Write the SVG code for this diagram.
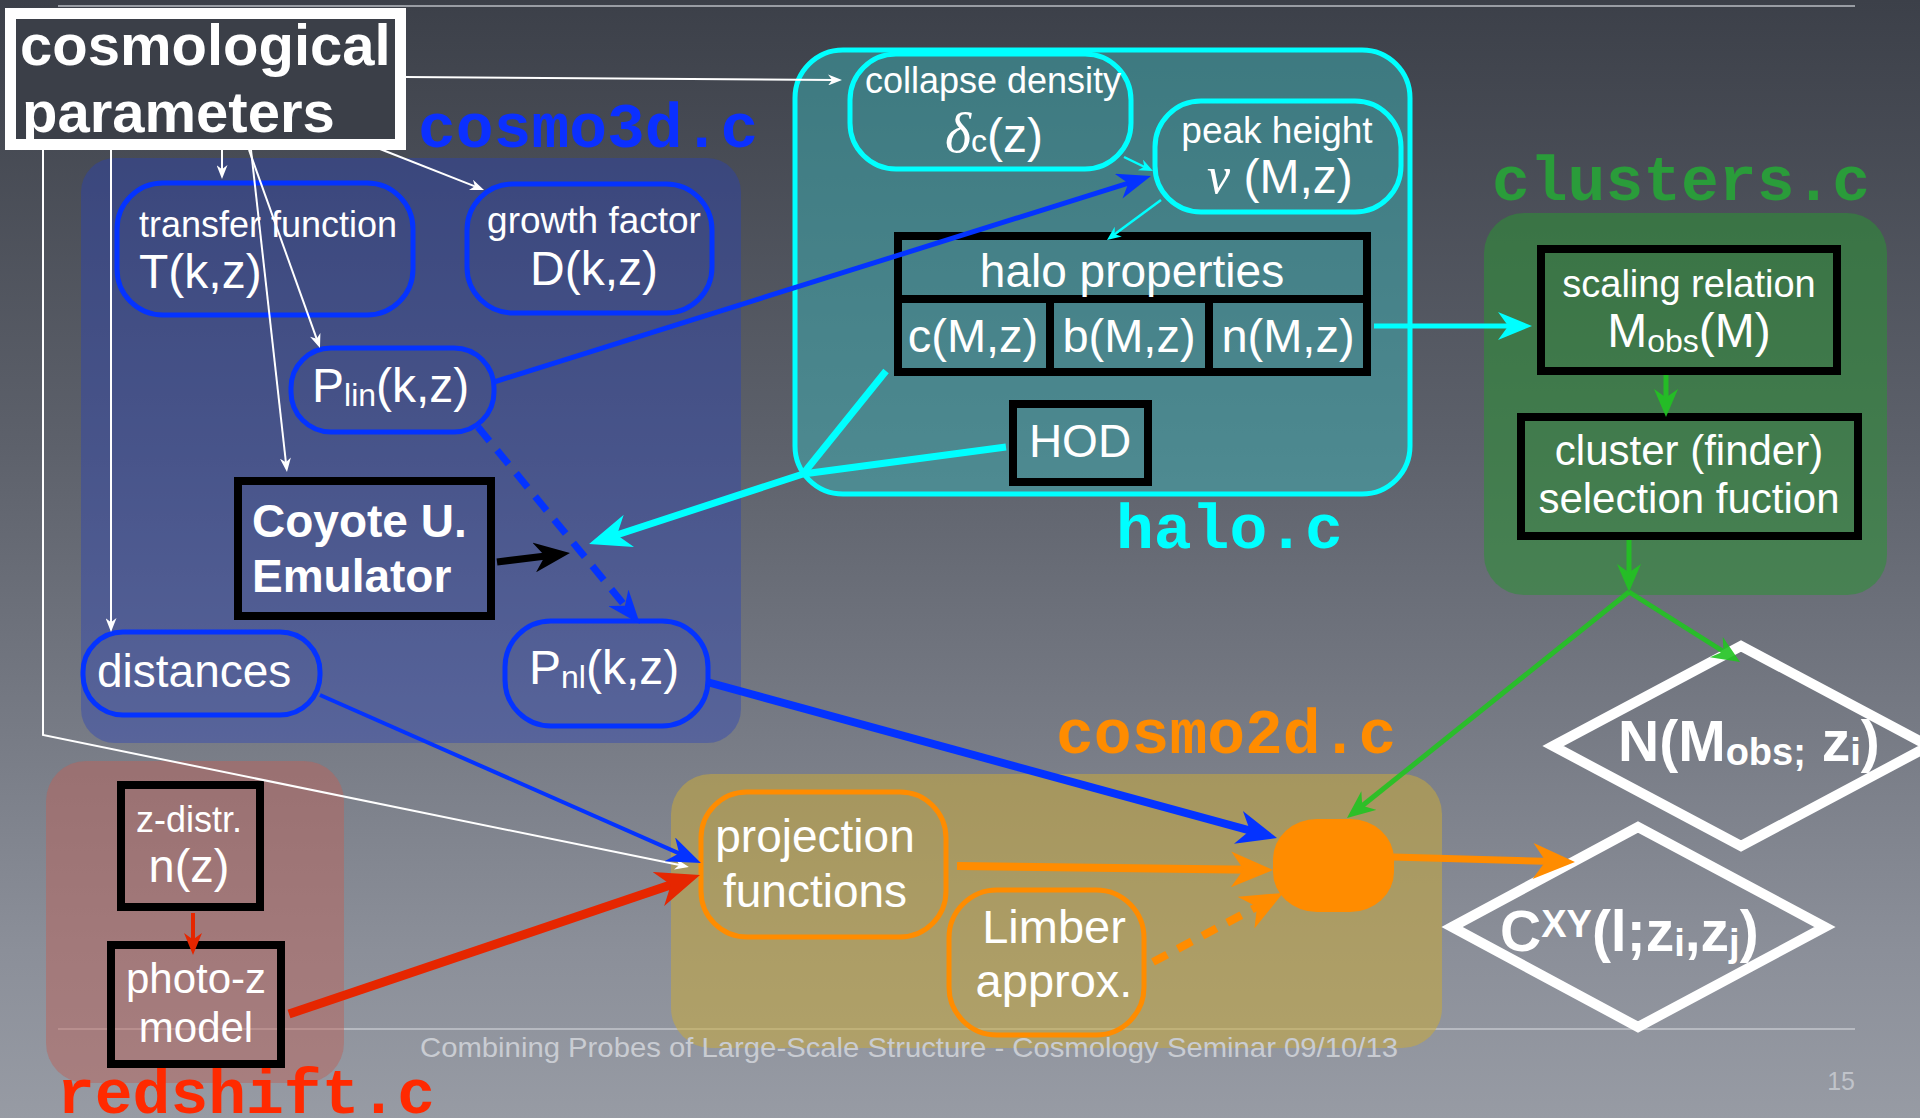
<svg xmlns="http://www.w3.org/2000/svg" width="1920" height="1118" viewBox="0 0 1920 1118">
<defs>
  <linearGradient id="bg" x1="0" y1="0" x2="0" y2="1">
    <stop offset="0" stop-color="#3c4049"/>
    <stop offset="0.4" stop-color="#5d616b"/>
    <stop offset="0.85" stop-color="#8b8f99"/>
    <stop offset="1" stop-color="#979ba4"/>
  </linearGradient>
  <!-- arrowheads: notched triangle, tip at x=10, line ends at its middle -->
  <marker id="mW" viewBox="0 0 10 10" refX="5" refY="5" markerWidth="14" markerHeight="11" markerUnits="userSpaceOnUse" orient="auto" preserveAspectRatio="none"><path d="M0,0 L10,5 L0,10 L3,5 Z" fill="#ffffff"/></marker>
  <marker id="mB" viewBox="0 0 10 10" refX="5" refY="5" markerWidth="34" markerHeight="26" markerUnits="userSpaceOnUse" orient="auto" preserveAspectRatio="none"><path d="M0,0 L10,5 L0,10 L3,5 Z" fill="#0433ff"/></marker>
  <marker id="mBL" viewBox="0 0 10 10" refX="5" refY="5" markerWidth="40" markerHeight="34" markerUnits="userSpaceOnUse" orient="auto" preserveAspectRatio="none"><path d="M0,0 L10,5 L0,10 L3,5 Z" fill="#0433ff"/></marker>
  <marker id="mK" viewBox="0 0 10 10" refX="5" refY="5" markerWidth="36" markerHeight="30" markerUnits="userSpaceOnUse" orient="auto" preserveAspectRatio="none"><path d="M0,0 L10,5 L0,10 L3,5 Z" fill="#000000"/></marker>
  <marker id="mC" viewBox="0 0 10 10" refX="5" refY="5" markerWidth="42" markerHeight="34" markerUnits="userSpaceOnUse" orient="auto" preserveAspectRatio="none"><path d="M0,0 L10,5 L0,10 L3,5 Z" fill="#00ffff"/></marker>
  <marker id="mC2" viewBox="0 0 10 10" refX="5" refY="5" markerWidth="34" markerHeight="28" markerUnits="userSpaceOnUse" orient="auto" preserveAspectRatio="none"><path d="M0,0 L10,5 L0,10 L3,5 Z" fill="#00ffff"/></marker>
  <marker id="mCs" viewBox="0 0 10 10" refX="5" refY="5" markerWidth="14" markerHeight="12" markerUnits="userSpaceOnUse" orient="auto" preserveAspectRatio="none"><path d="M0,0 L10,5 L0,10 L3,5 Z" fill="#00ffff"/></marker>
  <marker id="mG" viewBox="0 0 10 10" refX="5" refY="5" markerWidth="28" markerHeight="24" markerUnits="userSpaceOnUse" orient="auto" preserveAspectRatio="none"><path d="M0,0 L10,5 L0,10 L3,5 Z" fill="#22c422"/></marker>
  <marker id="mR" viewBox="0 0 10 10" refX="5" refY="5" markerWidth="44" markerHeight="36" markerUnits="userSpaceOnUse" orient="auto" preserveAspectRatio="none"><path d="M0,0 L10,5 L0,10 L3,5 Z" fill="#e62600"/></marker>
  <marker id="mRs" viewBox="0 0 10 10" refX="5" refY="5" markerWidth="22" markerHeight="18" markerUnits="userSpaceOnUse" orient="auto" preserveAspectRatio="none"><path d="M0,0 L10,5 L0,10 L3,5 Z" fill="#e62600"/></marker>
  <marker id="mO" viewBox="0 0 10 10" refX="5" refY="5" markerWidth="42" markerHeight="36" markerUnits="userSpaceOnUse" orient="auto" preserveAspectRatio="none"><path d="M0,0 L10,5 L0,10 L3,5 Z" fill="#ff8c00"/></marker>
</defs>
<style>
  .t { font-family: "Liberation Sans", Arial, sans-serif; fill: #ffffff; }
  .b { font-weight: bold; }
  .c { text-anchor: middle; }
  .greek { font-family: "Liberation Serif", "Times New Roman", serif; font-style: italic; }
  .code { font-family: "Liberation Mono", "Courier New", monospace; font-weight: bold; font-size: 63px; }
  .nb { fill: none; stroke: #0433ff; stroke-width: 5; }
  .nc { fill: none; stroke: #00ffff; stroke-width: 5; }
  .no { fill: none; stroke: #ff8c00; stroke-width: 5; }
  .bx { fill: none; stroke: #000000; stroke-width: 8; }
  .dm { fill: none; stroke: #ffffff; stroke-width: 10; }
  .w { fill: none; stroke: #ffffff; stroke-width: 2; }
  .blue { fill: none; stroke: #0433ff; }
  .cy { fill: none; stroke: #00ffff; stroke-linejoin: round; }
  .gr { fill: none; stroke: #22c422; stroke-width: 5; opacity: 0.9; }
  .rd { fill: none; stroke: #e62600; }
  .or { fill: none; stroke: #ff8c00; }
  .foot { font-family: "Liberation Sans", Arial, sans-serif; fill: #c9ccd2; }
</style>

<!-- slide background and rules -->
<rect x="0" y="0" width="1920" height="1118" fill="url(#bg)"/>
<line x1="58" y1="6" x2="1855" y2="6" stroke="#b9bcc3" stroke-width="1.5"/>
<line x1="58" y1="1029" x2="1855" y2="1029" stroke="#c4c7cd" stroke-width="1.5"/>

<!-- module regions -->
<g id="region-cosmo3d">
  <rect x="81" y="158" width="660" height="585" rx="34" fill="rgb(41,65,185)" fill-opacity="0.4"/>
  <text class="code" x="418" y="147" fill="#0b30ff">cosmo3d.c</text>
</g>
<g id="region-halo">
  <rect x="795" y="50" width="615" height="444" rx="48" fill="rgb(60,175,180)" fill-opacity="0.5" stroke="#00ffff" stroke-width="5"/>
  <text class="code" x="1116" y="548" fill="#00ffff">halo.c</text>
</g>
<g id="region-clusters">
  <rect x="1484" y="213" width="403" height="382" rx="40" fill="rgb(43,145,53)" fill-opacity="0.55"/>
  <text class="code" x="1492" y="200" fill="#2a9c3a">clusters.c</text>
</g>
<g id="region-cosmo2d">
  <rect x="671" y="774" width="771" height="274" rx="40" fill="rgb(200,170,60)" fill-opacity="0.55"/>
  <text class="code" x="1056" y="753" fill="#ff8c00">cosmo2d.c</text>
</g>
<g id="region-redshift">
  <rect x="46" y="761" width="298" height="322" rx="40" fill="rgb(186,100,92)" fill-opacity="0.5"/>
  <text class="code" x="57" y="1113" fill="#ff2a00">redshift.c</text>
</g>

<!-- nodes -->
<g id="cosmological-parameters">
  <rect x="10.5" y="13.5" width="390" height="131" fill="#3b3f48"/>
  <text class="t b" x="20" y="65" font-size="58">cosmological</text>
  <text class="t b" x="22" y="132" font-size="58">parameters</text>
  <rect x="10.5" y="13.5" width="390" height="131" fill="none" stroke="#ffffff" stroke-width="11"/>
</g>
<g id="transfer-function">
  <rect class="nb" x="117" y="183" width="296" height="132" rx="46"/>
  <text class="t" x="139" y="237" font-size="36">transfer function</text>
  <text class="t" x="139" y="288" font-size="48">T(k,z)</text>
</g>
<g id="growth-factor">
  <rect class="nb" x="467" y="184" width="245" height="129" rx="46"/>
  <text class="t c" x="594" y="233" font-size="37">growth factor</text>
  <text class="t c" x="594" y="285" font-size="48">D(k,z)</text>
</g>
<g id="p-lin">
  <rect class="nb" x="291" y="348" width="203" height="84" rx="40"/>
  <text class="t" x="312" y="402" font-size="48">P<tspan font-size="32" dy="4">lin</tspan><tspan dy="-4">(k,z)</tspan></text>
</g>
<g id="coyote-emulator">
  <rect class="bx" x="238" y="481" width="253" height="135"/>
  <text class="t b" x="252" y="537" font-size="46">Coyote U.</text>
  <text class="t b" x="252" y="592" font-size="46">Emulator</text>
</g>
<g id="distances">
  <rect class="nb" x="83" y="632" width="237" height="83" rx="40"/>
  <text class="t" x="97" y="687" font-size="46">distances</text>
</g>
<g id="p-nl">
  <rect class="nb" x="505" y="621" width="203" height="105" rx="46"/>
  <text class="t" x="529" y="684" font-size="48">P<tspan font-size="32" dy="4">nl</tspan><tspan dy="-4">(k,z)</tspan></text>
</g>
<g id="collapse-density">
  <rect class="nc" x="850" y="54" width="281" height="115" rx="46"/>
  <text class="t c" x="993" y="93" font-size="36">collapse density</text>
  <text class="t" x="945" y="152" font-size="48"><tspan class="greek" font-size="56">δ</tspan><tspan font-size="32">c</tspan>(z)</text>
</g>
<g id="peak-height">
  <rect class="nc" x="1155" y="101" width="246" height="111" rx="46"/>
  <text class="t c" x="1277" y="143" font-size="37">peak height</text>
  <text class="t" x="1207" y="193" font-size="48"><tspan class="greek" font-size="52">ν</tspan> (M,z)</text>
</g>
<g id="halo-properties">
  <rect class="bx" x="898" y="236" width="469" height="136"/>
  <line x1="898" y1="299" x2="1367" y2="299" stroke="#000" stroke-width="8"/>
  <line x1="1050" y1="299" x2="1050" y2="372" stroke="#000" stroke-width="8"/>
  <line x1="1209" y1="299" x2="1209" y2="372" stroke="#000" stroke-width="8"/>
  <text class="t c" x="1132" y="287" font-size="46">halo properties</text>
  <text class="t c" x="973" y="352" font-size="47">c(M,z)</text>
  <text class="t c" x="1129" y="352" font-size="47">b(M,z)</text>
  <text class="t c" x="1288" y="352" font-size="47">n(M,z)</text>
</g>
<g id="hod">
  <rect class="bx" x="1013" y="404" width="135" height="78"/>
  <text class="t c" x="1080" y="457" font-size="46">HOD</text>
</g>
<g id="scaling-relation">
  <rect class="bx" x="1541" y="249" width="296" height="122"/>
  <text class="t c" x="1689" y="297" font-size="38">scaling relation</text>
  <text class="t c" x="1689" y="347" font-size="48">M<tspan font-size="32" dy="5">obs</tspan><tspan dy="-5">(M)</tspan></text>
</g>
<g id="selection-function">
  <rect class="bx" x="1521" y="417" width="337" height="119"/>
  <text class="t c" x="1689" y="465" font-size="42">cluster (finder)</text>
  <text class="t c" x="1689" y="513" font-size="42">selection fuction</text>
</g>
<g id="z-distribution">
  <rect class="bx" x="121" y="785" width="139" height="122"/>
  <text class="t c" x="189" y="832" font-size="36">z-distr.</text>
  <text class="t c" x="189" y="882" font-size="47">n(z)</text>
</g>
<g id="photo-z-model">
  <rect class="bx" x="111" y="945" width="170" height="119"/>
  <text class="t c" x="196" y="993" font-size="42">photo-z</text>
  <text class="t c" x="196" y="1042" font-size="42">model</text>
</g>
<g id="projection-functions">
  <rect class="no" x="701" y="792" width="245" height="145" rx="46"/>
  <text class="t c" x="815" y="852" font-size="46">projection</text>
  <text class="t c" x="815" y="907" font-size="46">functions</text>
</g>
<g id="limber-approx">
  <rect class="no" x="949" y="890" width="195" height="145" rx="48"/>
  <text class="t c" x="1054" y="943" font-size="47">Limber</text>
  <text class="t c" x="1054" y="997" font-size="47">approx.</text>
</g>
<g id="combiner">
  <rect x="1273" y="819" width="121" height="93" rx="44" ry="40" fill="#ff8c00"/>
</g>
<g id="number-counts">
  <polygon class="dm" points="1553,746 1741,646 1929,746 1741,846"/>
  <text class="t b" x="1618" y="761" font-size="57">N(M<tspan font-size="38" dy="4">obs;</tspan><tspan dy="-4"> z</tspan><tspan font-size="38" dy="4">i</tspan><tspan dy="-4">)</tspan></text>
</g>
<g id="power-spectra">
  <polygon class="dm" points="1452,927 1638,827 1825,927 1638,1027"/>
  <text class="t b" x="1500" y="951" font-size="57">C<tspan font-size="38" dy="-14">XY</tspan><tspan dy="14">(l;z</tspan><tspan font-size="38" dy="5">i</tspan><tspan dy="-5">,z</tspan><tspan font-size="38" dy="5">j</tspan><tspan dy="-5">)</tspan></text>
</g>

<!-- connectors -->
<g id="connectors">
  <!-- from the cosmological parameters -->
  <path class="w" d="M405,77 L835,80" marker-end="url(#mW)"/>
  <path class="w" d="M222,150 L222,172" marker-end="url(#mW)"/>
  <path class="w" d="M380,149 L477.5,187.4" marker-end="url(#mW)"/>
  <path class="w" d="M249,150 L317.6,341.4" marker-end="url(#mW)"/>
  <path class="w" d="M251,150 L286.2,465" marker-end="url(#mW)"/>
  <path class="w" d="M111,150 L111,625" marker-end="url(#mW)"/>
  <path class="w" d="M43,150 L43,735 L682,865.6" marker-end="url(#mW)"/>
  <!-- power spectra -->
  <path class="blue" stroke-width="5" d="M494,382 L1134.8,181.1" marker-end="url(#mB)"/>
  <path class="blue" stroke-width="7" stroke-dasharray="18 12" d="M478,427 L629.2,610.9" marker-end="url(#mB)"/>
  <path class="blue" stroke-width="8" d="M707,682 L1257.7,832.7" marker-end="url(#mBL)"/>
  <path class="blue" stroke-width="4" d="M320,695 L685.4,856.1" marker-end="url(#mB)"/>
  <path fill="none" stroke="#000" stroke-width="7" d="M497,562 L552.1,555.2" marker-end="url(#mK)"/>
  <!-- halo model -->
  <path class="cy" stroke-width="7" d="M886,371 L803,474"/>
  <path class="cy" stroke-width="7" d="M1006,447 L803,474 L609,537.5" marker-end="url(#mC)"/>
  <path class="cy" stroke-width="2.5" d="M1124,157 L1146.7,168" marker-end="url(#mCs)"/>
  <path class="cy" stroke-width="2.5" d="M1161,200 L1112.6,235.8" marker-end="url(#mCs)"/>
  <path class="cy" stroke-width="5" d="M1374,326 L1515,326" marker-end="url(#mC2)"/>
  <!-- clusters -->
  <path class="gr" d="M1666,375 L1666,403" marker-end="url(#mG)"/>
  <path class="gr" d="M1629,540 L1629,578" marker-end="url(#mG)"/>
  <path class="gr" d="M1629,592 L1728.2,654.5" marker-end="url(#mG)"/>
  <path class="gr" d="M1629,592 L1357.9,809.3" marker-end="url(#mG)"/>
  <!-- redshift distributions -->
  <path class="rd" stroke-width="4" d="M193,913 L193,944" marker-end="url(#mRs)"/>
  <path class="rd" stroke-width="9" d="M289,1014 L679.2,882" marker-end="url(#mR)"/>
  <!-- projections -->
  <path class="or" stroke-width="8" d="M957,866 L1252,869.7" marker-end="url(#mO)"/>
  <path class="or" stroke-width="8" stroke-dasharray="16 12" d="M1153,962 L1264.5,902.8" marker-end="url(#mO)"/>
  <path class="or" stroke-width="7" d="M1393,857 L1554,861.5" marker-end="url(#mO)"/>
</g>

<!-- footer -->
<text class="foot" x="420" y="1057" font-size="28" textLength="978" lengthAdjust="spacingAndGlyphs">Combining Probes of Large-Scale Structure - Cosmology Seminar 09/10/13</text>
<text class="foot" x="1855" y="1090" font-size="25" text-anchor="end" fill-opacity="0.85">15</text>
</svg>
